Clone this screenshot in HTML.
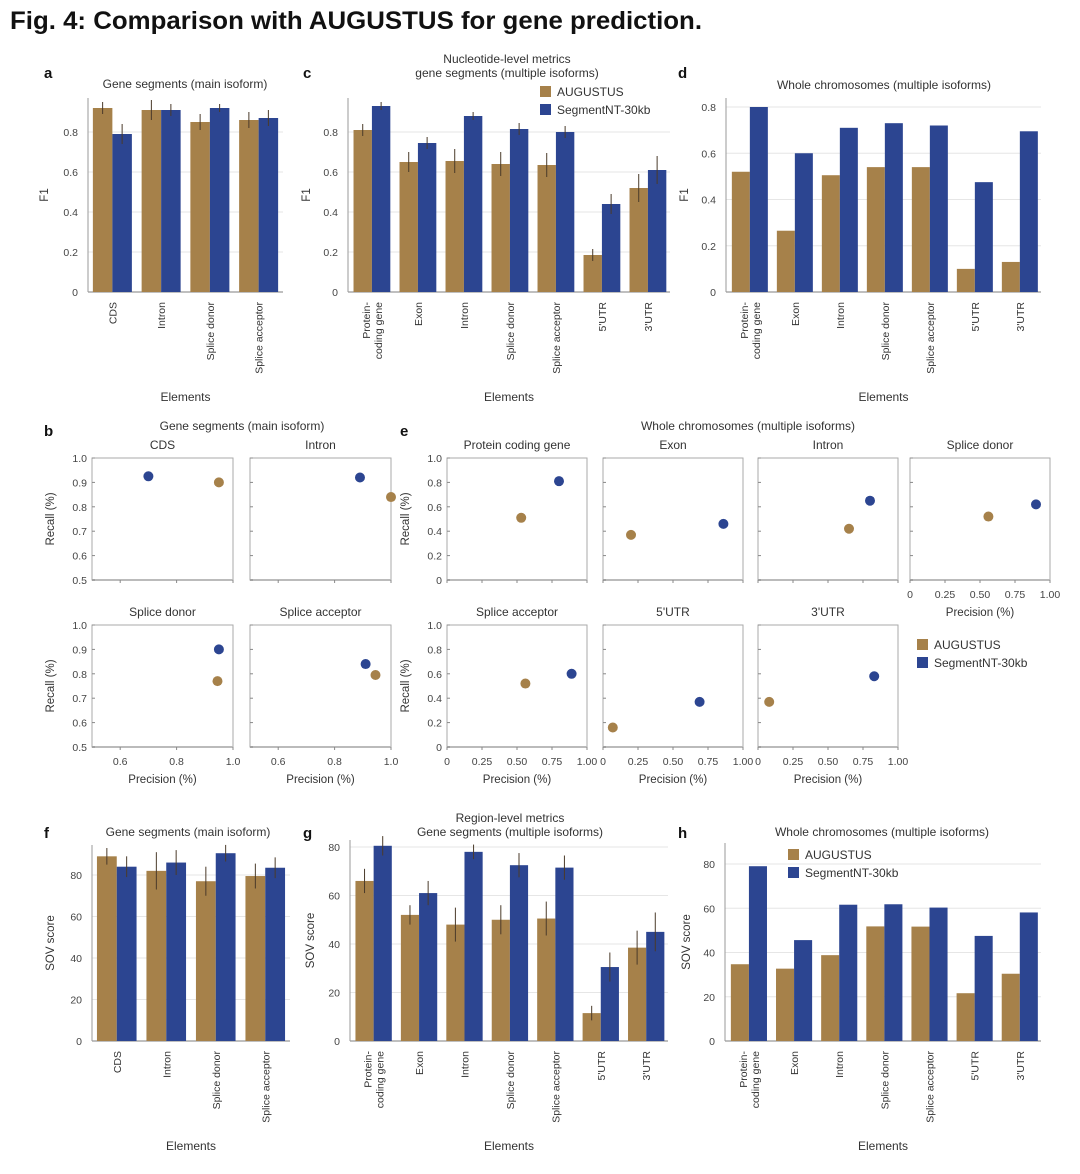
<!DOCTYPE html>
<html><head><meta charset="utf-8"><style>
html,body{margin:0;padding:0;background:#fff;}
svg{display:block;font-family:"Liberation Sans",sans-serif;}
</style></head><body>
<svg id="fig" width="1080" height="1174" viewBox="0 0 1080 1174" xmlns="http://www.w3.org/2000/svg">
<text x="10" y="29" font-family="Liberation Sans, sans-serif" font-weight="bold" font-size="25" textLength="692" lengthAdjust="spacingAndGlyphs" fill="#111">Fig. 4: Comparison with AUGUSTUS for gene prediction.</text>
</svg>
<script>
const AUG_C = '#a6814a', SEG_C = '#2c4591';
const cats4 = ['CDS','Intron','Splice donor','Splice acceptor'];
const cats7 = ['Protein-|coding gene','Exon','Intron','Splice donor','Splice acceptor','5\'UTR','3\'UTR'];
const aF1 = [0.92,0.91,0.85,0.86];
const sF1 = [0.79,0.91,0.92,0.87];
const aErr = [0.03,0.05,0.04,0.04];
const sErr = [0.05,0.03,0.02,0.04];
const cAug = [0.81,0.65,0.655,0.64,0.635,0.185,0.52];
const cSeg = [0.93,0.745,0.88,0.815,0.80,0.44,0.61];
const cAErr = [0.03,0.05,0.06,0.06,0.06,0.03,0.07];
const cSErr = [0.02,0.03,0.02,0.03,0.03,0.05,0.07];
const dAug = [0.52,0.265,0.505,0.54,0.54,0.10,0.13];
const dSeg = [0.80,0.60,0.71,0.73,0.72,0.475,0.695];
const fAug = [89,82,77,79.5];
const fSeg = [84,86,90.5,83.5];
const fAErr = [4,9,7,6];
const fSErr = [5,6,4,5];
const gAug = [66,52,48,50,50.5,11.5,38.5];
const gSeg = [80.5,61,78,72.5,71.5,30.5,45];
const gAErr = [5,4,7,6,7,3,7];
const gSErr = [4,5,3,5,5,6,8];
const hAug = [34.7,32.7,38.8,51.8,51.7,21.6,30.4];
const hSeg = [79,45.6,61.6,61.8,60.3,47.5,58.1];
const f1Ticks = [0,0.2,0.4,0.6,0.8];
const sovTicks = [0,20,40,60,80];
const bPanels = ['CDS','Intron','Splice donor','Splice acceptor'];
const bAugX = [0.95,1.0,0.945,0.945];
const bAugY = [0.90,0.84,0.77,0.795];
const bSegX = [0.70,0.89,0.95,0.91];
const bSegY = [0.925,0.92,0.90,0.84];
const ePanels = ['Protein coding gene','Exon','Intron','Splice donor','Splice acceptor','5\'UTR','3\'UTR'];
const eAugX = [0.53,0.20,0.65,0.56,0.56,0.07,0.08];
const eAugY = [0.51,0.37,0.42,0.52,0.52,0.16,0.37];
const eSegX = [0.80,0.86,0.80,0.90,0.89,0.69,0.83];
const eSegY = [0.81,0.46,0.65,0.62,0.60,0.37,0.58];
const bYTicks = [0.5,0.6,0.7,0.8,0.9,1.0];
const bXTicks = [0.6,0.8,1.0];
const eYTicks = [0,0.2,0.4,0.6,0.8,1.0];
const eXTicks = [0,0.25,0.5,0.75,1.0];
const eXTickLabels = ['0','0.25','0.50','0.75','1.00'];

const svg = document.getElementById('fig');
const NS = 'http://www.w3.org/2000/svg';
function mk(tag, attrs, parent){
  const e = document.createElementNS(NS, tag);
  for (const k in attrs) e.setAttribute(k, attrs[k]);
  (parent||svg).appendChild(e);
  return e;
}
function txt(x,y,s,size,anchor,parent,fill){
  const t = mk('text',{x:x,y:y,'font-size':size||11,'text-anchor':anchor||'middle',fill:fill||'#333'},parent);
  t.textContent = s;
  return t;
}
function fmt(v){ return String(v); }

function barChart(o){
  const g = mk('g',{});
  
  
  const n = o.cats.length, gw = (o.x1-o.x0)/n;
  const yS = v => o.y0 - v*o.ppu;
  o.ticks.forEach(t=>{
    const y = yS(t);
    if (t>0){ const gl = mk('line',{x1:o.x0,x2:o.x1,y1:y,y2:y,stroke:'#e6e6e6','stroke-width':1},g);
        }
    const tl = txt(o.x0-10,y+4,fmt(t),10.5,'end',g,'#444');
     
  });
  mk('line',{x1:o.x0,x2:o.x0,y1:o.y0,y2:o.top,stroke:'#999','stroke-width':1},g);
  mk('line',{x1:o.x0,x2:o.x1,y1:o.y0,y2:o.y0,stroke:'#999','stroke-width':1.2},g);
  for (let i=0;i<n;i++){
    const gx = o.x0 + i*gw, bw = gw*o.bwf, off = gw*o.off;
    [[o.aug,o.aErr,AUG_C,'bar-augustus'],[o.seg,o.sErr,SEG_C,'bar-segmentnt']].forEach((s,k)=>{
      const v = s[0][i], x = gx+off+k*bw;
      const r = mk('rect',{x:x,y:yS(v),width:bw,height:v*o.ppu,fill:s[2]},g);
      
      
      if (s[1]){
        const e = s[1][i];
        const el = mk('line',{x1:x+bw/2,x2:x+bw/2,y1:yS(v+e),y2:yS(v-e),stroke:'#4a3a2a','stroke-width':1},g);
        
        
      }
    });
    const cx = gx+off+bw;
    const lines = o.cats[i].split('|');
    lines.forEach((ln,j)=>{
      const lx = cx + (j-(lines.length-1)/2)*12 + 4;
      const t = mk('text',{x:0,y:0,'font-size':10.5,'text-anchor':'end',fill:'#333',transform:'translate('+lx+','+(o.y0+10)+') rotate(-90)'},g);
      t.textContent = ln;
      
      
    });
  }
  const xt = txt((o.x0+o.x1)/2, o.xlabY, 'Elements', 12, 'middle', g, '#333');
   
  const yt = mk('text',{x:0,y:0,'font-size':11.5,'text-anchor':'middle',fill:'#333',transform:'translate('+o.ylabX+','+((o.y0+o.top)/2)+') rotate(-90)'},g);
  yt.textContent = o.ylab;
   
}

function scatterBox(o){
  const g = mk('g',{});
  
  
  const xS = v => o.x + (v-o.xmin)/(o.xmax-o.xmin)*o.w;
  const yS = v => o.y + o.h - (v-o.ymin)/(o.ymax-o.ymin)*o.h;
  mk('rect',{x:o.x,y:o.y,width:o.w,height:o.h,fill:'none',stroke:'#aaa','stroke-width':1},g);
  mk('line',{x1:o.x,x2:o.x+o.w,y1:o.y+o.h,y2:o.y+o.h,stroke:'#bbb','stroke-width':2},g);
  o.yt.forEach(t=>{
    mk('line',{x1:o.x,x2:o.x+3,y1:yS(t),y2:yS(t),stroke:'#888'},g);
    if (o.showY){ const l = txt(o.x-5,yS(t)+4,o.yfmt(t),10.5,'end',g,'#444');
        }
  });
  o.xt.forEach((t,i)=>{
    mk('line',{x1:xS(t),x2:xS(t),y1:o.y+o.h,y2:o.y+o.h+3,stroke:'#888'},g);
    if (o.showX){ const l = txt(xS(t),o.y+o.h+18,o.xlabels[i],10.5,'middle',g,'#444');
        }
  });
  const ti = txt(o.x+o.w/2,o.y-9,o.title,12,'middle',g,'#333');
   
  const pa = mk('circle',{cx:xS(o.ax),cy:yS(o.ay),r:5,fill:AUG_C},g);
   
  const ps = mk('circle',{cx:xS(o.sx),cy:yS(o.sy),r:5,fill:SEG_C},g);
   
  if (o.showX){ const p = txt(o.x+o.w/2,o.y+o.h+36,'Precision (%)',11.5,'middle',g,'#333');
      }
  if (o.showY){ const r = mk('text',{x:0,y:0,'font-size':11.5,'text-anchor':'middle',fill:'#333',transform:'translate('+(o.x-38)+','+(o.y+o.h/2)+') rotate(-90)'},g);
    r.textContent='Recall (%)';   }
}

function legend(x,y,name){
  const g = mk('g',{});
  
  
  [['AUGUSTUS',AUG_C],['SegmentNT-30kb',SEG_C]].forEach((e,i)=>{
    mk('rect',{x:x,y:y+i*18-6,width:11,height:11,fill:e[1]},g);
    const t = txt(x+17,y+i*18+4,e[0],12,'start',g,'#333');
     
  });
}
function label(x,y,s){ const t = mk('text',{x:x,y:y,'font-size':15,'font-weight':'bold',fill:'#111'}); t.textContent=s;
    }
function title(x,y,s){ const t = txt(x,y,s,12,'middle',svg,'#333');
    }

label(44,78,'a'); label(303,78,'c'); label(678,78,'d');
title(185,88,'Gene segments (main isoform)');
title(507,63,'Nucleotide-level metrics'); title(507,77,'gene segments (multiple isoforms)');
title(884,89,'Whole chromosomes (multiple isoforms)');
barChart({name:'panel-a-chart',x0:88,x1:283,y0:292,top:98,ppu:200,ticks:f1Ticks,cats:cats4,aug:aF1,seg:sF1,aErr:aErr,sErr:sErr,bwf:0.4,off:0.1,xlabY:401,ylabX:48,ylab:'F1'});
barChart({name:'panel-c-chart',x0:348,x1:670,y0:292,top:98,ppu:200,ticks:f1Ticks,cats:cats7,aug:cAug,seg:cSeg,aErr:cAErr,sErr:cSErr,bwf:0.4,off:0.12,xlabY:401,ylabX:310,ylab:'F1'});
barChart({name:'panel-d-chart',x0:726,x1:1041,y0:292,top:98,ppu:231.25,ticks:f1Ticks,cats:cats7,aug:dAug,seg:dSeg,bwf:0.4,off:0.13,xlabY:401,ylabX:688,ylab:'F1'});
legend(540,92,'legend-c');

label(44,436,'b'); label(400,436,'e');
title(242,430,'Gene segments (main isoform)');
title(748,430,'Whole chromosomes (multiple isoforms)');
const bPos = [[92,458],[250,458],[92,625],[250,625]];
bPanels.forEach((t,i)=>{
  scatterBox({name:'panel-b-'+i,x:bPos[i][0],y:bPos[i][1],w:141,h:122,xmin:0.5,xmax:1.0,ymin:0.5,ymax:1.0,
    yt:bYTicks,xt:bXTicks,xlabels:['0.6','0.8','1.0'],yfmt:v=>v.toFixed(1),title:t,
    showY:i%2===0,showX:i>=2,ax:bAugX[i],ay:bAugY[i],sx:bSegX[i],sy:bSegY[i]});
});
const eXs = [447,603,758,910];
ePanels.forEach((t,i)=>{
  const r = i<4?0:1, c = i<4?i:i-4;
  scatterBox({name:'panel-e-'+i,x:eXs[c],y:r?625:458,w:140,h:122,xmin:0,xmax:1,ymin:0,ymax:1,
    yt:eYTicks,xt:eXTicks,xlabels:eXTickLabels,yfmt:v=>v===0?'0':v.toFixed(1),title:t,
    showY:c===0,showX:r===1||i===3,ax:eAugX[i],ay:eAugY[i],sx:eSegX[i],sy:eSegY[i]});
});
legend(917,645,'legend-e');

label(44,838,'f'); label(303,838,'g'); label(678,838,'h');
title(188,836,'Gene segments (main isoform)');
title(510,822,'Region-level metrics'); title(510,836,'Gene segments (multiple isoforms)');
title(882,836,'Whole chromosomes (multiple isoforms)');
barChart({name:'panel-f-chart',x0:92,x1:290,y0:1041,top:845,ppu:166/80,ticks:sovTicks,cats:cats4,aug:fAug,seg:fSeg,aErr:fAErr,sErr:fSErr,bwf:0.4,off:0.1,xlabY:1150,ylabX:54,ylab:'SOV score'});
barChart({name:'panel-g-chart',x0:350,x1:668,y0:1041,top:840,ppu:194/80,ticks:sovTicks,cats:cats7,aug:gAug,seg:gSeg,aErr:gAErr,sErr:gSErr,bwf:0.4,off:0.12,xlabY:1150,ylabX:314,ylab:'SOV score'});
barChart({name:'panel-h-chart',x0:725,x1:1041,y0:1041,top:843,ppu:177/80,ticks:sovTicks,cats:cats7,aug:hAug,seg:hSeg,bwf:0.4,off:0.13,xlabY:1150,ylabX:690,ylab:'SOV score'});
legend(788,855,'legend-h');
</script>
</body></html>
